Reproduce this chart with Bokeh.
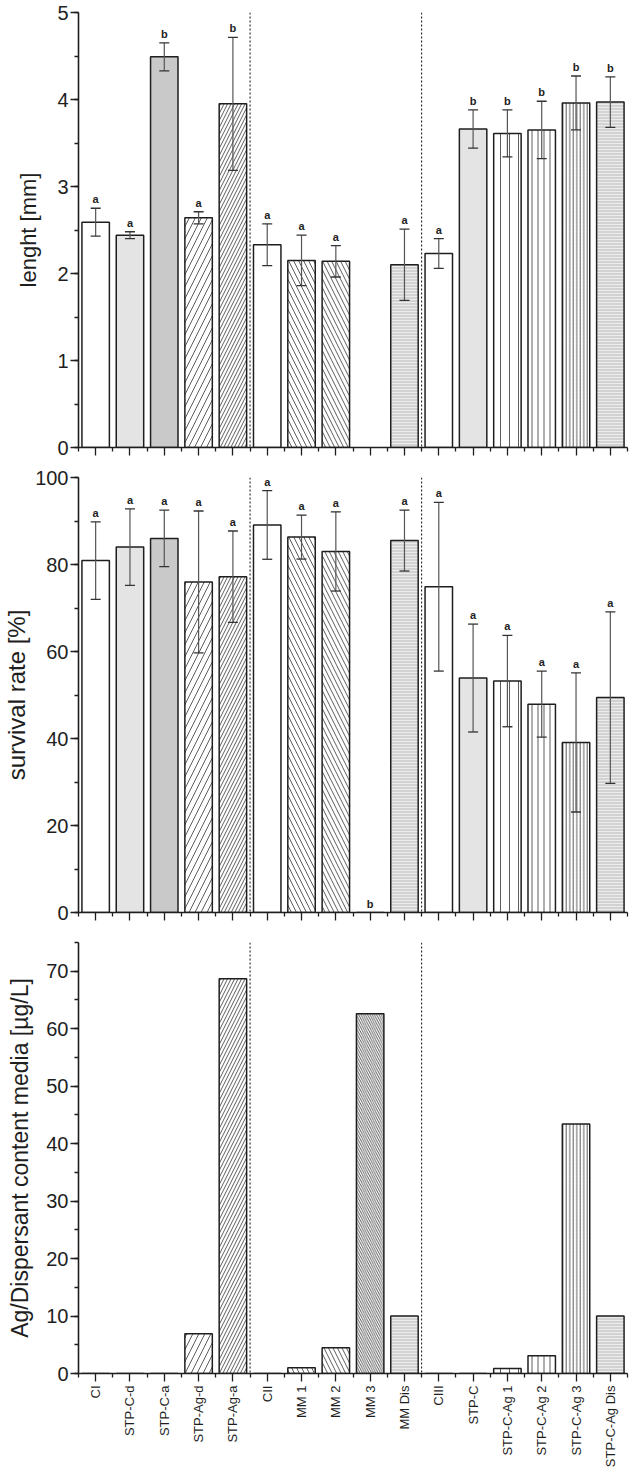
import math
from bokeh.plotting import figure
from bokeh.models import (ColumnDataSource, Whisker, TeeHead, Span, FixedTicker,
                          SingleIntervalTicker, Range1d, CustomLabelingPolicy)
from bokeh.layouts import column
from bokeh.embed import file_html
from bokeh.resources import INLINE
from bokeh.core.properties import value

NaN = float("nan")

categories = ["CI", "STP-C-d", "STP-C-a", "STP-Ag-d", "STP-Ag-a",
              "CII", "MM 1", "MM 2", "MM 3", "MM Dis",
              "CIII", "STP-C", "STP-C-Ag 1", "STP-C-Ag 2", "STP-C-Ag 3", "STP-C-Ag Dis"]

length_mm = [2.59, 2.44, 4.49, 2.64, 3.95, 2.33, 2.15, 2.14, NaN, 2.10,
             2.23, 3.66, 3.61, 3.65, 3.96, 3.97]
length_sd = [0.16, 0.04, 0.16, 0.07, 0.765, 0.24, 0.29, 0.18, NaN, 0.41,
             0.17, 0.22, 0.27, 0.33, 0.31, 0.29]
length_letters = ["a", "a", "b", "a", "b", "a", "a", "a", "", "a",
                  "a", "b", "b", "b", "b", "b"]

survival_pct = [80.9, 84.0, 86.0, 76.0, 77.2, 89.1, 86.3, 83.0, 0.0, 85.5,
                74.9, 53.9, 53.2, 47.9, 39.1, 49.4]
survival_sd = [8.9, 8.8, 6.5, 16.3, 10.5, 7.9, 5.05, 9.1, 0.0, 7.0,
               19.4, 12.4, 10.5, 7.6, 16.0, 19.7]
survival_letters = ["a", "a", "a", "a", "a", "a", "a", "a", "b", "a",
                    "a", "a", "a", "a", "a", "a"]

ag_content = [0, 0, 0, 6.9, 68.7, 0, 1.0, 4.5, 62.6, 10.0,
              0, 0, 0.85, 3.1, 43.4, 10.0]

# styles per category
fills = ["white", "#e4e4e4", "#c9c9c9", "white", "white",
         "white", "white", "white", "white", "#d2d2d2",
         "white", "#e4e4e4", "white", "white", "white", "#d2d2d2"]
hatches = [" ", " ", " ", "/", "/",
           " ", "\\", "\\", "\\", "-",
           " ", " ", "|", "|", "|", "-"]
hatch_scales = [6, 6, 6, 12, 7,
                6, 10, 9, 4.5, 3,
                6, 6, 9, 6, 3.5, 3]
hatch_colors = ["#333333"] * 9 + ["#f2f2f2"] + ["#333333"] * 5 + ["#f2f2f2"]

FONT = "Liberation Sans"
INK = "#1e1e1e"
xs = list(range(1, len(categories) + 1))
separators = [5.5, 10.5]

no_labels = CustomLabelingPolicy(code="""
    for (const i of Array.from(indices)) {
        indices.unset(i)
    }
    return indices
""")


def make_fig(height, y_end, top, bottom, interval, ylabel, label_size, standoff):
    p = figure(width=629, height=height, x_range=Range1d(0.5, 16.5),
               y_range=Range1d(0, y_end), output_backend="svg",
               toolbar_location=None, min_border_left=77, min_border_right=2,
               min_border_top=top, min_border_bottom=bottom)
    p.outline_line_color = None
    p.grid.visible = False
    p.background_fill_color = "white"
    p.border_fill_color = "white"

    ya = p.yaxis[0]
    ya.ticker = SingleIntervalTicker(interval=interval, num_minor_ticks=2)
    ya.axis_label = ylabel
    ya.axis_label_text_font = FONT
    ya.axis_label_text_font_style = "normal"
    ya.axis_label_text_font_size = label_size
    ya.axis_label_text_color = INK
    ya.axis_label_standoff = standoff
    ya.major_label_text_font = FONT
    ya.major_label_text_font_size = "20px"
    ya.major_label_text_color = INK
    ya.major_label_standoff = 2

    xa = p.xaxis[0]
    xa.ticker = FixedTicker(ticks=xs, minor_ticks=[x + 0.5 for x in range(0, 17)])
    for ax in (ya, xa):
        ax.axis_line_width = 1.6
        ax.axis_line_color = INK
        ax.major_tick_line_color = INK
        ax.minor_tick_line_color = INK
        ax.major_tick_line_width = 1.3
        ax.minor_tick_line_width = 1.3
        ax.major_tick_out = 8
        ax.major_tick_in = 0
        ax.minor_tick_out = 4
        ax.minor_tick_in = 0

    for loc in separators:
        p.add_layout(Span(location=loc, dimension="height", line_dash="2 2",
                          line_color="#111111", line_width=1))
    return p


def add_bars(p, values):
    idx = [i for i, v in enumerate(values) if not math.isnan(v)]
    src = ColumnDataSource(dict(
        x=[xs[i] for i in idx], top=[values[i] for i in idx],
        fill=[fills[i] for i in idx], hatch=[hatches[i] for i in idx],
        hscale=[hatch_scales[i] for i in idx], hcolor=[hatch_colors[i] for i in idx]))
    p.vbar(x="x", top="top", width=0.8, source=src, fill_color="fill",
           hatch_pattern="hatch", hatch_scale="hscale", hatch_color="hcolor",
           hatch_weight=0.8, line_color=INK, line_width=1.5)


def add_errors(p, values, sds, letters):
    idx = [i for i, v in enumerate(values) if not math.isnan(v)]
    esrc = ColumnDataSource(dict(
        x=[xs[i] for i in idx if sds[i] > 0],
        upper=[values[i] + sds[i] for i in idx if sds[i] > 0],
        lower=[values[i] - sds[i] for i in idx if sds[i] > 0]))
    w = Whisker(source=esrc, base="x", upper="upper", lower="lower",
                line_color="#555555", line_width=1.2, level="annotation",
                upper_head=TeeHead(size=10, line_color="#333333", line_width=1.3),
                lower_head=TeeHead(size=10, line_color="#333333", line_width=1.3))
    p.add_layout(w)
    lsrc = ColumnDataSource(dict(
        x=[xs[i] for i in idx if letters[i]],
        y=[values[i] + sds[i] for i in idx if letters[i]],
        t=[letters[i] for i in idx if letters[i]]))
    p.text(x="x", y="y", text="t", source=lsrc, text_align="center",
           text_baseline="bottom", y_offset=-3, text_font=value(FONT),
           text_font_style="bold", text_font_size="11px", text_color="#222222")


# Panel 1: length
p1 = make_fig(466, 5, 12, 11, 1, "lenght [mm]", "22px", 13)
p1.xaxis.major_label_policy = no_labels
p1.xaxis.major_label_standoff = 0
add_bars(p1, length_mm)
add_errors(p1, length_mm, length_sd, length_letters)

# Panel 2: survival
p2 = make_fig(465, 100, 11, 11, 20, "survival rate [%]", "24px", 2)
p2.xaxis.major_label_policy = no_labels
p2.xaxis.major_label_standoff = 0
add_bars(p2, survival_pct)
add_errors(p2, survival_pct, survival_sd, survival_letters)

# Panel 3: Ag / dispersant content
p3 = make_fig(539, 75, 11, 90, 10, "Ag/Dispersant content media [µg/L]", "23px", 10)
add_bars(p3, ag_content)
xa3 = p3.xaxis[0]
xa3.major_label_overrides = {x: c for x, c in zip(xs, categories)}
xa3.major_label_orientation = math.pi / 2
xa3.major_label_text_font = FONT
xa3.major_label_text_font_size = "13px"
xa3.major_label_text_color = INK
xa3.major_label_standoff = 4

layout = column(p1, p2, p3, spacing=0)
open("out.html", "w").write(file_html(layout, INLINE))
